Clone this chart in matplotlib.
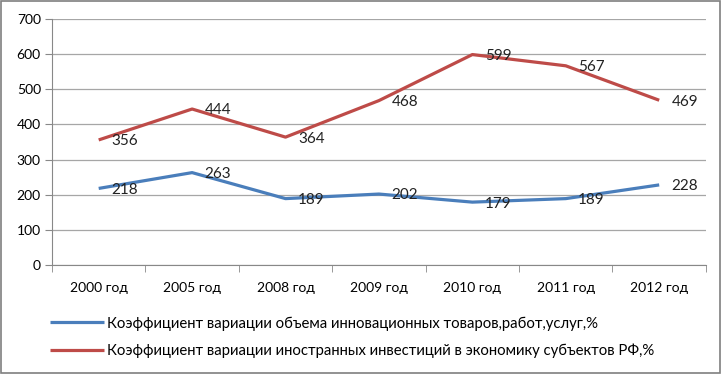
import matplotlib
matplotlib.use("Agg")
import numpy as np
from matplotlib import pyplot as plt
from matplotlib.patches import Rectangle

years = ["2000 год", "2005 год", "2008 год", "2009 год", "2010 год", "2011 год", "2012 год"]
innov = [218, 263, 189, 202, 179, 189, 228]
foreign = [356, 444, 364, 468, 599, 567, 469]
innov_name = "Коэффициент вариации объема инновационных товаров,работ,услуг,%"
foreign_name = "Коэффициент вариации иностранных инвестиций в экономику субъектов РФ,%"

plt.rcParams["font.family"] = ["Lato", "DejaVu Sans"]

fig = plt.figure(figsize=(7.24, 3.74), dpi=100)
ax = fig.add_axes([0.0718, 0.2914, 0.9032, 0.6576])

x = np.arange(len(years))
blue = "#4A7EBB"
red = "#BE4B48"
l1, = ax.plot(x, innov, color=blue, lw=2.3, solid_capstyle="butt")
l2, = ax.plot(x, foreign, color=red, lw=2.3, solid_capstyle="butt")

# data labels to the right of each point
for xi, v in zip(x, innov):
    ax.annotate(str(v), (xi, v), xytext=(9, -1), textcoords="offset points",
                va="center", ha="left", fontsize=11, color="#222222")
for xi, v in zip(x, foreign):
    ax.annotate(str(v), (xi, v), xytext=(9, -1), textcoords="offset points",
                va="center", ha="left", fontsize=11, color="#222222")

ax.set_xlim(-0.5, len(years) - 0.5)
ax.set_ylim(0, 700)
ax.set_yticks(range(0, 701, 100))
ax.yaxis.grid(True, color="#A6A6A6", lw=0.9)
ax.set_axisbelow(True)

ax.set_xticks(x)
ax.set_xticklabels(years, fontsize=10)
ax.set_xticks(np.arange(-0.5, len(years)), minor=True)
ax.tick_params(axis="x", which="major", length=0, pad=12)
ax.tick_params(axis="x", which="minor", length=5, color="#888888")
ax.tick_params(axis="y", length=5, color="#888888", labelsize=10, pad=3)

for s in ["top", "right"]:
    ax.spines[s].set_visible(False)
ax.spines["left"].set_color("#888888")
ax.spines["bottom"].set_color("#888888")

fig.legend([l1, l2], [innov_name, foreign_name], loc="upper left",
           bbox_to_anchor=(0.051, 0.19), frameon=False, fontsize=10.7,
           handlelength=3.6, handletextpad=0.2, labelspacing=0.85)

# outer frame
fig.patches.append(Rectangle((0.002, 0.004), 0.993, 0.992, transform=fig.transFigure,
                             fill=False, ec="#7F7F7F", lw=1.2))

plt.savefig("out.png", dpi=100)
plt.close()
